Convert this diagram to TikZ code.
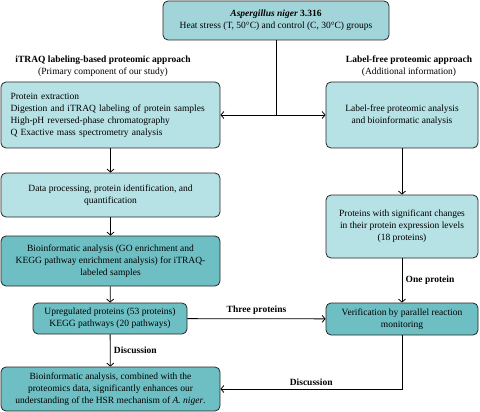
\documentclass[tikz,border=0pt]{standalone}
\usepackage{fontspec}
\setmainfont{Liberation Serif}
\usetikzlibrary{positioning,arrows.meta}
\definecolor{boxTop}  {RGB}{162,213,217}
\definecolor{boxLight}{RGB}{183,226,229}
\definecolor{boxDark} {RGB}{110,191,196}
\tikzstyle{topbox}   = [draw, fill=boxTop]
\tikzstyle{lightbox} = [draw, fill=boxLight]
\tikzstyle{darkbox}  = [draw, fill=boxDark]
\tikzstyle{flow}     = [line width=0.8pt, -{Straight Barb[length=3pt,width=7pt]}]
\tikzset{
  every node/.style={font=\fontsize{9.5}{12}\selectfont},
  box/.style={rectangle,rounded corners=5pt,align=center,inner sep=0pt,line width=0.8pt,draw=black!85},
  lbl/.style={font=\fontsize{9.5}{12}\selectfont\bfseries}
}
\begin{document}
\begin{tikzpicture}[x=1pt,y=-1pt]
			\useasboundingbox (0,0) rectangle (480,412);
			\node[box,topbox,minimum width=226,minimum height=39]   (strain)   at (276,20.5)  {\textbf{\textit{Aspergillus niger}} \textbf{3.316}\\Heat stress (T, 50\textdegree C) and control (C, 30\textdegree C) groups};
			\node[lbl,align=center]   (itraqHead) at (103,66.5)  {iTRAQ labeling-based proteomic approach\\\textmd{(Primary component of our study)}};
			\node[lbl,align=center]   (freeHead)  at (409,66.5)  {Label-free proteomic approach\\\textmd{(Additional information)}};
			\node[box,lightbox,minimum width=219,minimum height=66,text width=200,align=left] (prep) at (110.5,115) {Protein extraction\\Digestion and iTRAQ labeling of protein samples\\High-pH reversed-phase chromatography\\Q Exactive mass spectrometry analysis};
			\node[box,lightbox,minimum width=152,minimum height=66] (free)     at (402,115)   {Label-free proteomic analysis\\and bioinformatic analysis};
			\node[box,lightbox,minimum width=219,minimum height=44] (dataproc) at (110.5,195) {Data processing, protein identification, and\\quantification};
			\node[box,lightbox,minimum width=152,minimum height=63] (sigprot)  at (402,226.5) {Proteins with significant changes\\in their protein expression levels\\(18 proteins)};
			\node[box,darkbox,minimum width=219,minimum height=50]  (bioinf)   at (110.5,261) {Bioinformatic analysis (GO enrichment and\\KEGG pathway enrichment analysis) for iTRAQ-\\labeled samples};
			\node[box,darkbox,minimum width=154,minimum height=31]  (upreg)    at (110,318.5) {Upregulated proteins (53 proteins)\\KEGG pathways (20 pathways)};
			\node[box,darkbox,minimum width=152,minimum height=32]  (prm)      at (402,319)   {Verification by parallel reaction\\monitoring};
			\node[box,darkbox,minimum width=219,minimum height=44]  (hsr)      at (110.5,389) {Bioinformatic analysis, combined with the\\proteomics data, significantly enhances our\\understanding of the HSR mechanism of \textit{A. niger}.};
			\coordinate (split) at (276,115);
			\draw[line width=0.8pt] (strain) -- (split);
			\draw[flow]    (split)    -- (prep);
			\draw[flow]    (split)    -- (free);
			\draw[flow]    (prep)     -- (dataproc);
			\draw[flow]    (free)     -- (sigprot);
			\draw[flow]    (dataproc) -- (bioinf);
			\draw[flow]    (bioinf)   -- (upreg);
			\draw[flow]    (upreg)    -- node[lbl,right] {Discussion} (hsr);
			\draw[flow]    (upreg)    -- node[lbl,above] {Three proteins} (prm);
			\draw[flow]    (sigprot)  -- node[lbl,right] {One protein} (prm);
			\draw[flow]    (prm)      |- node[lbl,above,pos=0.75] {Discussion} (hsr);
		\end{tikzpicture}
\end{document}
